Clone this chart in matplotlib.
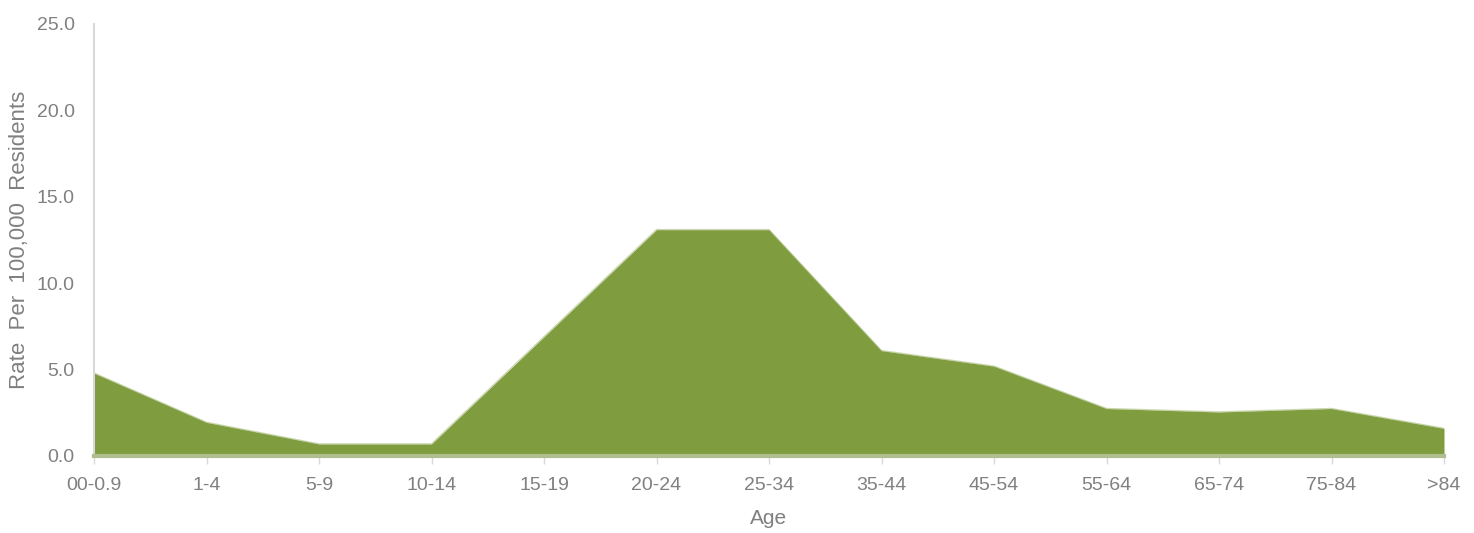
import matplotlib
matplotlib.use("Agg")
import matplotlib.pyplot as plt
import numpy as np

categories = ["00-0.9", "1-4", "5-9", "10-14", "15-19", "20-24", "25-34",
              "35-44", "45-54", "55-64", "65-74", "75-84", ">84"]
rates = [4.8, 1.95, 0.7, 0.7, 6.9, 13.1, 13.1, 6.1, 5.2, 2.75, 2.55, 2.75, 1.6]
yticks = [0.0, 5.0, 10.0, 15.0, 20.0, 25.0]

plt.rcParams['font.family'] = ['Liberation Sans', 'DejaVu Sans']
text_color = '#808080'

fig = plt.figure(figsize=(14.74, 5.33), dpi=100)
ax = fig.add_axes([94/1474, 1 - 456/533, (1444-94)/1474, (456-24)/533])

x = np.arange(len(categories))
ax.fill_between(x, 0, rates, color='#7f9c3f', linewidth=0)
ax.plot(x, rates, color='#a9bd7c', linewidth=1.0, alpha=0.6)

ax.set_xlim(0, len(categories) - 1)
ax.set_ylim(0, 25)
ax.set_xticks(x)
ax.set_xticklabels(categories)
ax.set_yticks(yticks)
ax.set_yticklabels([f"{v:.1f}" for v in yticks])

for s in ['top', 'right']:
    ax.spines[s].set_visible(False)
ax.spines['left'].set_color('#d9d9d9')
ax.spines['left'].set_linewidth(1.5)
ax.spines['bottom'].set_color('#b0bd8f')
ax.spines['bottom'].set_linewidth(3)

ax.tick_params(axis='x', colors='#d9d9d9', length=6, width=1, labelsize=14,
               labelcolor=text_color, pad=9)
ax.tick_params(axis='y', length=0, labelsize=14, labelcolor=text_color, pad=14)

ax.set_xlabel("Age", fontsize=15, color=text_color, labelpad=11)
ax.set_ylabel("Rate  Per  100,000  Residents", fontsize=16, color=text_color, labelpad=5)

fig.savefig("out.png", dpi=100, facecolor='white')
